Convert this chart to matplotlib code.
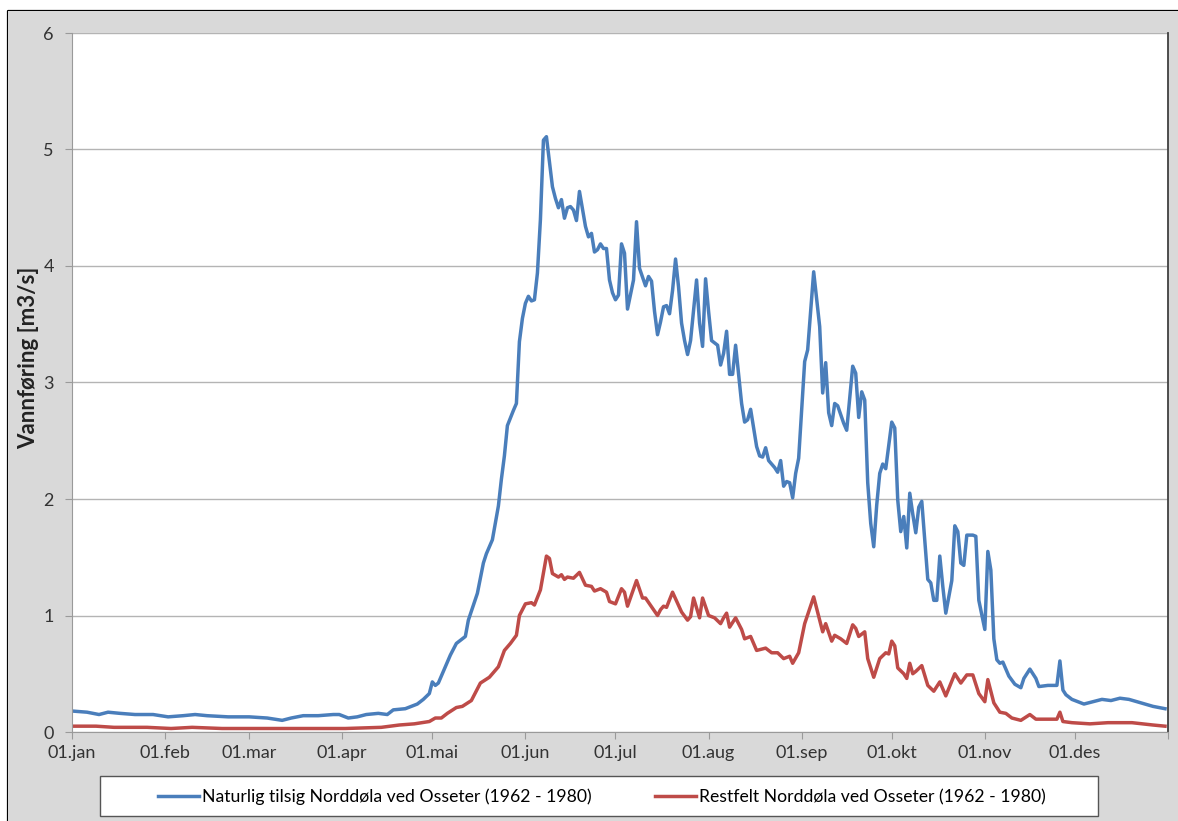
import matplotlib.pyplot as plt
from matplotlib.patches import Rectangle
from matplotlib.lines import Line2D

# figure size in pixels
W, H = 1178, 821

# month ticks (day of year)
month_days = [0, 31, 59, 90, 120, 151, 181, 212, 243, 273, 304, 334]
month_labels = ["01.jan", "01.feb", "01.mar", "01.apr", "01.mai", "01.jun",
                "01.jul", "01.aug", "01.sep", "01.okt", "01.nov", "01.des"]

# Naturlig tilsig Norddøla ved Osseter (1962 - 1980)
naturlig_dag = [0, 5, 9, 12, 16, 21, 27, 32, 37, 41, 45, 52, 59, 65, 70, 73, 77, 82, 87, 89,
                92, 95, 98, 102, 105, 107, 111, 115, 117, 119, 120, 121, 122, 123, 126, 128, 131, 132, 135, 137,
                138, 140, 142, 143, 144, 145, 147, 148, 149, 150, 151, 152, 153, 154, 155, 156, 157, 158, 160, 161,
                162, 163, 164, 165, 166, 167, 168, 169, 171, 172, 173, 174, 175, 176, 177, 178, 179, 180, 181, 182,
                183, 184, 185, 187, 188, 189, 191, 192, 193, 194, 195, 196, 197, 198, 199, 200, 201, 202, 203, 204,
                205, 206, 207, 208, 209, 210, 211, 212, 213, 214, 215, 216, 217, 218, 219, 220, 221, 222, 223, 224,
                225, 226, 227, 228, 229, 230, 231, 232, 234, 235, 236, 237, 238, 239, 240, 241, 242, 244, 245, 247,
                249, 250, 251, 252, 253, 254, 255, 257, 258, 260, 261, 262, 263, 264, 265, 266, 267, 268, 269, 270,
                271, 273, 274, 275, 276, 277, 278, 279, 280, 281, 282, 283, 285, 286, 287, 288, 289, 290, 291, 293,
                294, 295, 296, 297, 298, 300, 301, 302, 304, 305, 306, 307, 308, 309, 310, 312, 314, 316, 317, 319,
                321, 322, 325, 328, 329, 330, 331, 333, 337, 340, 343, 346, 349, 352, 356, 360, 364]
naturlig_q = [0.18, 0.17, 0.15, 0.17, 0.16, 0.15, 0.15, 0.13, 0.14, 0.15, 0.14, 0.13, 0.13, 0.12, 0.10, 0.12, 0.14, 0.14, 0.15, 0.15,
              0.12, 0.13, 0.15, 0.16, 0.15, 0.19, 0.20, 0.24, 0.28, 0.33, 0.43, 0.40, 0.42, 0.48, 0.66, 0.76, 0.82, 0.96, 1.19, 1.45,
              1.53, 1.65, 1.94, 2.17, 2.37, 2.63, 2.76, 2.82, 3.35, 3.55, 3.68, 3.74, 3.70, 3.71, 3.94, 4.40, 5.08, 5.11, 4.68, 4.58,
              4.50, 4.57, 4.41, 4.50, 4.51, 4.48, 4.39, 4.64, 4.34, 4.25, 4.28, 4.12, 4.14, 4.19, 4.15, 4.15, 3.88, 3.77, 3.71, 3.75,
              4.19, 4.11, 3.63, 3.88, 4.38, 3.98, 3.83, 3.91, 3.87, 3.61, 3.41, 3.52, 3.65, 3.66, 3.59, 3.79, 4.06, 3.82, 3.51, 3.36,
              3.24, 3.36, 3.62, 3.88, 3.51, 3.31, 3.89, 3.61, 3.36, 3.34, 3.32, 3.15, 3.25, 3.44, 3.07, 3.07, 3.32, 3.07, 2.82, 2.66,
              2.68, 2.77, 2.61, 2.45, 2.37, 2.36, 2.44, 2.33, 2.27, 2.23, 2.33, 2.11, 2.15, 2.14, 2.01, 2.22, 2.35, 3.18, 3.28, 3.95,
              3.48, 2.91, 3.17, 2.74, 2.63, 2.82, 2.80, 2.65, 2.59, 3.14, 3.08, 2.70, 2.92, 2.85, 2.14, 1.79, 1.59, 1.95, 2.22, 2.30,
              2.26, 2.66, 2.61, 1.99, 1.72, 1.85, 1.58, 2.05, 1.87, 1.71, 1.93, 1.98, 1.31, 1.28, 1.13, 1.13, 1.51, 1.25, 1.02, 1.30,
              1.77, 1.72, 1.45, 1.43, 1.69, 1.69, 1.68, 1.13, 0.88, 1.55, 1.39, 0.80, 0.62, 0.59, 0.60, 0.48, 0.41, 0.38, 0.46, 0.54,
              0.46, 0.39, 0.40, 0.40, 0.61, 0.36, 0.32, 0.28, 0.24, 0.26, 0.28, 0.27, 0.29, 0.28, 0.25, 0.22, 0.20]

# Restfelt Norddøla ved Osseter (1962 - 1980)
restfelt_dag = [0, 8, 14, 25, 33, 40, 50, 65, 80, 91, 103, 109, 114, 119, 121, 123, 125, 128, 130, 133,
                136, 139, 142, 144, 146, 148, 149, 151, 153, 154, 156, 158, 159, 160, 162, 163, 164, 165, 167, 169,
                171, 173, 174, 176, 178, 179, 181, 183, 184, 185, 188, 190, 191, 195, 196, 197, 198, 200, 203, 205,
                206, 207, 209, 210, 212, 214, 216, 217, 218, 219, 221, 223, 224, 226, 228, 231, 233, 235, 237, 239,
                240, 242, 244, 247, 248, 250, 251, 253, 254, 256, 258, 260, 261, 262, 264, 265, 267, 269, 271, 272,
                273, 274, 275, 277, 278, 279, 280, 281, 283, 285, 287, 289, 291, 294, 296, 298, 300, 302, 304, 305,
                307, 309, 311, 313, 316, 319, 321, 325, 328, 329, 330, 333, 339, 345, 353, 360, 364]
restfelt_q = [0.05, 0.05, 0.04, 0.04, 0.03, 0.04, 0.03, 0.03, 0.03, 0.03, 0.04, 0.06, 0.07, 0.09, 0.12, 0.12, 0.16, 0.21, 0.22, 0.27,
              0.42, 0.47, 0.56, 0.70, 0.76, 0.83, 1.00, 1.10, 1.11, 1.09, 1.22, 1.51, 1.49, 1.36, 1.33, 1.35, 1.31, 1.33, 1.32, 1.37,
              1.26, 1.25, 1.21, 1.23, 1.20, 1.12, 1.10, 1.23, 1.20, 1.08, 1.30, 1.15, 1.15, 1.00, 1.05, 1.08, 1.07, 1.20, 1.03, 0.96,
              0.99, 1.15, 0.98, 1.15, 1.00, 0.98, 0.93, 0.98, 1.02, 0.90, 0.98, 0.88, 0.80, 0.82, 0.70, 0.72, 0.68, 0.68, 0.63, 0.65,
              0.59, 0.68, 0.93, 1.16, 1.06, 0.86, 0.93, 0.78, 0.83, 0.80, 0.76, 0.92, 0.89, 0.82, 0.86, 0.63, 0.47, 0.63, 0.68, 0.67,
              0.78, 0.74, 0.55, 0.50, 0.46, 0.59, 0.50, 0.52, 0.57, 0.40, 0.35, 0.43, 0.31, 0.50, 0.42, 0.49, 0.49, 0.33, 0.26, 0.45,
              0.25, 0.17, 0.16, 0.12, 0.10, 0.15, 0.11, 0.11, 0.11, 0.17, 0.09, 0.08, 0.07, 0.08, 0.08, 0.06, 0.05]

naturlig_navn = "Naturlig tilsig Norddøla ved Osseter (1962 - 1980)"
restfelt_navn = "Restfelt Norddøla ved Osseter (1962 - 1980)"

blue = "#4a7ebb"
red = "#be4b48"

plt.rcParams['font.family'] = ['Lato', 'DejaVu Sans']

fig = plt.figure(figsize=(W / 100, H / 100), dpi=100, facecolor="white")

# grey chart area, cropped at right and bottom; black border only on left and top
fig.patches.append(Rectangle((8 / W, 0), 1.0, 1 - 11 / H, transform=fig.transFigure,
                             facecolor="#d9d9d9", edgecolor="none", zorder=-1))
fig.lines.append(Line2D([8 / W, 8 / W, 1.0], [0, 1 - 11 / H, 1 - 11 / H], transform=fig.transFigure,
                        color="black", lw=1.6, zorder=-1))

ax = fig.add_axes([72 / W, 1 - 732 / H, (1168 - 72) / W, (732 - 33) / H])
ax.set_facecolor("white")

ax.plot(naturlig_dag, naturlig_q, color=blue, lw=2.5, solid_joinstyle="round")
ax.plot(restfelt_dag, restfelt_q, color=red, lw=2.5, solid_joinstyle="round")

ax.set_xlim(0, 365)
ax.set_ylim(0, 6)
ax.set_yticks(range(7))
ax.set_xticks(month_days + [365])
ax.set_xticklabels(month_labels + [""])

ax.yaxis.grid(True, color="#b4b4b4", lw=1)
ax.set_axisbelow(True)

ax.spines["top"].set_visible(False)
ax.spines["left"].set_color("#9a9a9a")
ax.spines["bottom"].set_color("#9a9a9a")
ax.spines["right"].set_color("#404040")
ax.spines["right"].set_linewidth(1.3)

ax.tick_params(axis="both", length=5, color="#9a9a9a", labelsize=13, labelcolor="#333333")
ax.tick_params(axis="y", pad=8)
ax.tick_params(axis="x", pad=4)

ax.set_ylabel("Vannføring [m3/s]", fontsize=16, fontweight="bold", color="#222222")
ax.yaxis.set_label_coords((39 - 72) / 1096, (732 - 358) / 699)

# legend box
fig.patches.append(Rectangle((100 / W, 1 - 816 / H), 998 / W, 40 / H, transform=fig.transFigure,
                             facecolor="white", edgecolor="#555555", lw=1, zorder=1))
handles = [Line2D([], [], color=blue, lw=2.5), Line2D([], [], color=red, lw=2.5)]
fig.legend(handles, [naturlig_navn, restfelt_navn], loc="center", bbox_to_anchor=(602 / W, 1 - 797 / H),
           ncol=2, frameon=False, fontsize=12.7, handlelength=2.3, handletextpad=0.2, columnspacing=3.6)

fig.savefig("out.png", dpi=100, facecolor=fig.get_facecolor())
